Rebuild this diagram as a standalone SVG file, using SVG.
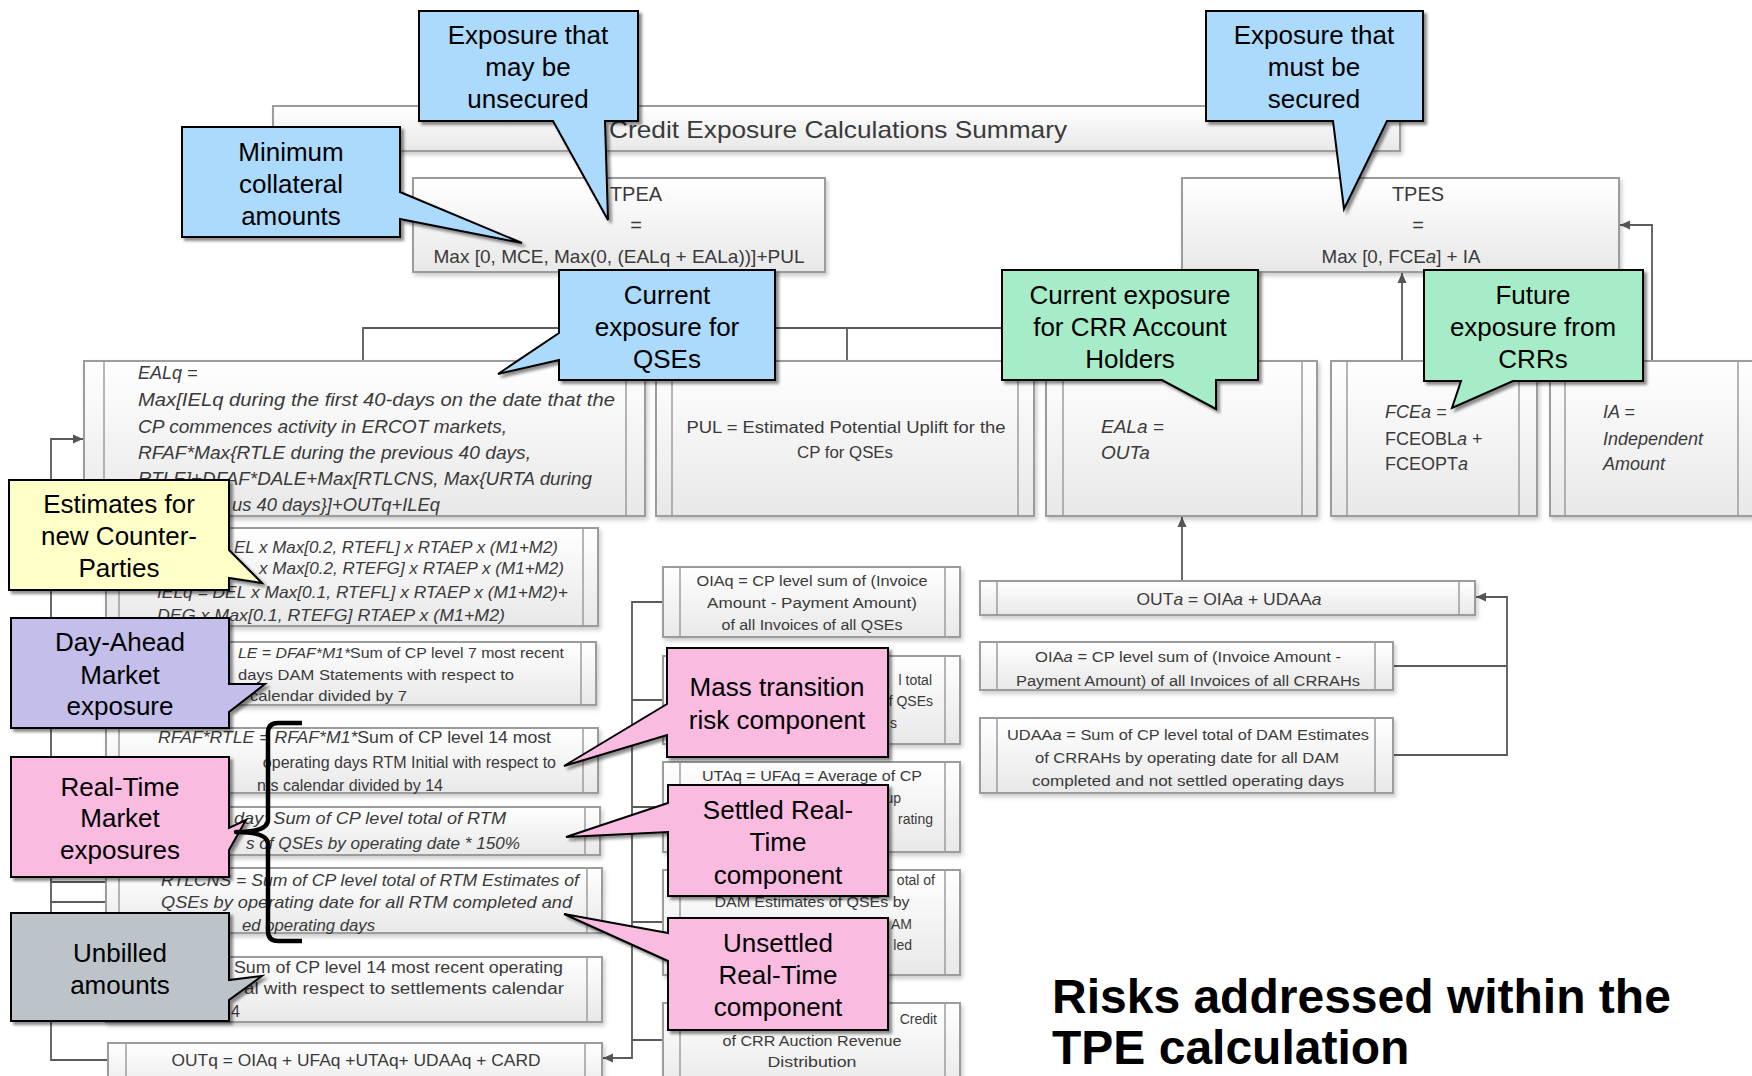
<svg xmlns="http://www.w3.org/2000/svg" width="1752" height="1076" viewBox="0 0 1752 1076">
<defs>
<linearGradient id="bg" x1="0" y1="0" x2="0" y2="1"><stop offset="0" stop-color="#ffffff"/><stop offset="1" stop-color="#e8e8e8"/></linearGradient>
<filter id="bs" x="-5%" y="-10%" width="115%" height="130%"><feDropShadow dx="2" dy="3" stdDeviation="2" flood-color="#000" flood-opacity="0.2"/></filter>
<filter id="cs" x="-10%" y="-10%" width="125%" height="125%"><feDropShadow dx="3" dy="3" stdDeviation="1.6" flood-color="#000" flood-opacity="0.45"/></filter>
<marker id="ah" viewBox="0 0 10 10" refX="10" refY="5" markerWidth="12" markerHeight="10" markerUnits="userSpaceOnUse" orient="auto"><path d="M0,0.5 L10,5 L0,9.5 z" fill="#555"/></marker>
</defs>
<style>
.box{fill:url(#bg);stroke:#9c9c9c;stroke-width:2;filter:url(#bs)}
.in{stroke:#9c9c9c;stroke-width:1.5}
.t{font-family:"Liberation Sans",Arial,sans-serif;fill:#3a3a3a}
.i{font-style:italic}
.c{text-anchor:middle}
.e{text-anchor:end}
.con{fill:none;stroke:#5a5a5a;stroke-width:1.8}
.co{stroke:#000;stroke-width:2;filter:url(#cs)}
.ct{font-family:"Liberation Sans",Arial,sans-serif;font-size:26px;fill:#000;text-anchor:middle}
.blue{fill:#abdafc}.green{fill:#a6ecc8}.yellow{fill:#ffffc8}.lav{fill:#c3beea}.pink{fill:#f9bbe0}.gray{fill:#bcc3c9}
</style>

<g id="connectors">
<path class="con" d="M363,361 V328 H1180 V361"/>
<path class="con" d="M620,272 V328"/>
<path class="con" d="M847,328 V361"/>
<path class="con" d="M1402,361 V273" marker-end="url(#ah)"/>
<path class="con" d="M1652,361 V225 H1620" marker-end="url(#ah)"/>
<path class="con" d="M1182,581 V517" marker-end="url(#ah)"/>
<path class="con" d="M1393,666 H1507"/>
<path class="con" d="M1393,755 H1507 V597 H1476" marker-end="url(#ah)"/>
<path class="con" d="M663,602 H632 V1058 H603" marker-end="url(#ah)"/>
<path class="con" d="M663,700 H632 M663,807 H632 M663,922 H632 M663,1040 H632"/>
<path class="con" d="M108,1060 H51 V439 H83" marker-end="url(#ah)"/>
<path class="con" d="M51,882 H106 M51,902 H106"/>
</g>

<g id="title"><rect class="box" x="273" y="106" width="1127" height="45"/>
<text class="t c" x="838" y="138" font-size="24" fill="#333" textLength="458" lengthAdjust="spacingAndGlyphs">Credit Exposure Calculations Summary</text></g>

<g id="tpea"><rect class="box" x="413" y="178" width="412" height="94"/>
<text class="t c" x="636" y="201" font-size="20">TPEA</text>
<text class="t c" x="636" y="232" font-size="20">=</text>
<text class="t c" x="619" y="263" font-size="19" textLength="371" lengthAdjust="spacingAndGlyphs">Max [0, MCE, Max(0, (EALq + EALa))]+PUL</text></g>

<g id="tpes"><rect class="box" x="1182" y="178" width="437" height="94"/>
<text class="t c" x="1418" y="201" font-size="20">TPES</text>
<text class="t c" x="1418" y="232" font-size="20">=</text>
<text class="t c" x="1401" y="263" font-size="19" textLength="159" lengthAdjust="spacingAndGlyphs">Max [0, FCE<tspan class="i">a</tspan>] + IA</text></g>

<g id="ealq"><rect class="box" x="84" y="361" width="561" height="155"/>
<line class="in" x1="104" y1="361" x2="104" y2="516"/><line class="in" x1="626" y1="361" x2="626" y2="516"/>
<g class="t i" font-size="18">
<text x="138" y="379">EALq =</text>
<text x="138" y="406" textLength="477" lengthAdjust="spacingAndGlyphs">Max[IELq during the first 40-days on the date that the</text>
<text x="138" y="433" textLength="369" lengthAdjust="spacingAndGlyphs">CP commences activity in ERCOT markets,</text>
<text x="138" y="459" textLength="393" lengthAdjust="spacingAndGlyphs">RFAF*Max{RTLE during the previous 40 days,</text>
<text x="138" y="485" textLength="454" lengthAdjust="spacingAndGlyphs">RTLE]+DFAF*DALE+Max[RTLCNS, Max{URTA during</text>
<text x="232" y="511" textLength="208" lengthAdjust="spacingAndGlyphs">us 40 days}]+OUTq+ILEq</text>
</g></g>

<g id="pul"><rect class="box" x="656" y="361" width="378" height="155"/>
<line class="in" x1="672" y1="361" x2="672" y2="516"/><line class="in" x1="1018" y1="361" x2="1018" y2="516"/>
<text class="t c" x="846" y="433" font-size="16" textLength="319" lengthAdjust="spacingAndGlyphs">PUL = Estimated Potential Uplift for the</text>
<text class="t c" x="845" y="458" font-size="16" textLength="96" lengthAdjust="spacingAndGlyphs">CP for QSEs</text></g>

<g id="eala"><rect class="box" x="1046" y="361" width="271" height="155"/>
<line class="in" x1="1063" y1="361" x2="1063" y2="516"/><line class="in" x1="1302" y1="361" x2="1302" y2="516"/>
<text class="t i" x="1101" y="433" font-size="19">EALa =</text>
<text class="t i" x="1101" y="459" font-size="19">OUTa</text></g>

<g id="fcea"><rect class="box" x="1331" y="361" width="206" height="155"/>
<line class="in" x1="1347" y1="361" x2="1347" y2="516"/><line class="in" x1="1519" y1="361" x2="1519" y2="516"/>
<text class="t i" x="1385" y="418" font-size="18">FCEa =</text>
<text class="t" x="1385" y="445" font-size="18">FCEOBL<tspan class="i">a</tspan> +</text>
<text class="t" x="1385" y="470" font-size="18">FCEOPT<tspan class="i">a</tspan></text></g>

<g id="ia"><rect class="box" x="1550" y="361" width="230" height="155"/>
<line class="in" x1="1565" y1="361" x2="1565" y2="516"/><line class="in" x1="1738" y1="361" x2="1738" y2="516"/>
<text class="t i" x="1603" y="418" font-size="18">IA =</text>
<text class="t i" x="1603" y="445" font-size="18">Independent</text>
<text class="t i" x="1603" y="470" font-size="18">Amount</text></g>

<g id="ielq"><rect class="box" x="106" y="528" width="492" height="98"/>
<line class="in" x1="119" y1="528" x2="119" y2="626"/><line class="in" x1="583" y1="528" x2="583" y2="626"/>
<g class="t i" font-size="17">
<text x="234" y="553" textLength="324" lengthAdjust="spacingAndGlyphs">EL x Max[0.2, RTEFL] x RTAEP x (M1+M2)</text>
<text x="259" y="574" textLength="305" lengthAdjust="spacingAndGlyphs">x Max[0.2, RTEFG] x RTAEP x (M1+M2)</text>
<text x="157" y="598" textLength="411" lengthAdjust="spacingAndGlyphs">IELq = DEL x Max[0.1, RTEFL] x RTAEP x (M1+M2)+</text>
<text x="157" y="621" textLength="348" lengthAdjust="spacingAndGlyphs">DEG x Max[0.1, RTEFG]  RTAEP x (M1+M2)</text>
</g></g>

<g id="dale"><rect class="box" x="106" y="642" width="490" height="63"/>
<line class="in" x1="119" y1="642" x2="119" y2="705"/><line class="in" x1="581" y1="642" x2="581" y2="705"/>
<g class="t" font-size="15">
<text x="238" y="658" textLength="326" lengthAdjust="spacingAndGlyphs"><tspan class="i">LE = DFAF*M1*</tspan>Sum of CP level 7 most recent</text>
<text x="238" y="680" textLength="276" lengthAdjust="spacingAndGlyphs">days DAM Statements with respect to</text>
<text x="250" y="701" textLength="157" lengthAdjust="spacingAndGlyphs">calendar divided by 7</text>
</g></g>

<g id="rtle"><rect class="box" x="106" y="728" width="492" height="65"/>
<line class="in" x1="119" y1="728" x2="119" y2="793"/><line class="in" x1="583" y1="728" x2="583" y2="793"/>
<g class="t" font-size="16">
<text x="158" y="743" textLength="393" lengthAdjust="spacingAndGlyphs"><tspan class="i">RFAF*RTLE = RFAF*M1*</tspan>Sum of CP level 14 most</text>
<text class="e" x="556" y="768">operating days RTM Initial with respect to</text>
<text class="e" x="443" y="791">nts calendar divided by 14</text>
</g></g>

<g id="urta"><rect class="box" x="106" y="807" width="494" height="48"/>
<line class="in" x1="119" y1="807" x2="119" y2="855"/><line class="in" x1="585" y1="807" x2="585" y2="855"/>
<g class="t i" font-size="17">
<text x="234" y="824" textLength="272" lengthAdjust="spacingAndGlyphs">day; Sum of CP level total of RTM</text>
<text x="246" y="849" textLength="274" lengthAdjust="spacingAndGlyphs">s of QSEs by operating date * 150%</text>
</g></g>

<g id="rtlcns"><rect class="box" x="106" y="868" width="496" height="65"/>
<line class="in" x1="119" y1="868" x2="119" y2="933"/><line class="in" x1="587" y1="868" x2="587" y2="933"/>
<g class="t i" font-size="17">
<text x="161" y="886" textLength="418" lengthAdjust="spacingAndGlyphs">RTLCNS = Sum of CP level total of RTM Estimates of</text>
<text x="161" y="908" textLength="411" lengthAdjust="spacingAndGlyphs">QSEs by operating date  for all RTM completed and</text>
<text x="242" y="931" textLength="133" lengthAdjust="spacingAndGlyphs">ed operating days</text>
</g></g>

<g id="rtlf"><rect class="box" x="106" y="957" width="496" height="65"/>
<line class="in" x1="119" y1="957" x2="119" y2="1022"/><line class="in" x1="587" y1="957" x2="587" y2="1022"/>
<g class="t" font-size="16">
<text x="234" y="973" textLength="329" lengthAdjust="spacingAndGlyphs">Sum of CP level 14 most recent operating</text>
<text x="244" y="994" textLength="320" lengthAdjust="spacingAndGlyphs">al with respect to settlements calendar</text>
<text x="231" y="1017">4</text>
</g></g>

<g id="outq"><rect class="box" x="108" y="1043" width="494" height="50"/>
<line class="in" x1="126" y1="1043" x2="126" y2="1093"/><line class="in" x1="585" y1="1043" x2="585" y2="1093"/>
<text class="t c" x="356" y="1066" font-size="17" textLength="369" lengthAdjust="spacingAndGlyphs">OUTq = OIAq + UFAq +UTAq+ UDAAq + CARD</text></g>

<g id="oiaq"><rect class="box" x="663" y="567" width="297" height="70"/>
<line class="in" x1="680" y1="567" x2="680" y2="637"/><line class="in" x1="945" y1="567" x2="945" y2="637"/>
<g class="t c" font-size="14">
<text x="812" y="586" textLength="231" lengthAdjust="spacingAndGlyphs">OIAq = CP level sum of (Invoice</text>
<text x="812" y="608" textLength="210" lengthAdjust="spacingAndGlyphs">Amount - Payment Amount)</text>
<text x="812" y="630" textLength="181" lengthAdjust="spacingAndGlyphs">of all Invoices of all QSEs</text>
</g></g>

<g id="box-q2"><rect class="box" x="663" y="656" width="297" height="88"/>
<line class="in" x1="680" y1="656" x2="680" y2="744"/><line class="in" x1="945" y1="656" x2="945" y2="744"/>
<g class="t e" font-size="14">
<text x="932" y="685">l total</text>
<text x="933" y="706">f QSEs</text>
<text x="897" y="728">s</text>
</g></g>

<g id="utaq"><rect class="box" x="663" y="762" width="297" height="90"/>
<line class="in" x1="680" y1="762" x2="680" y2="852"/><line class="in" x1="945" y1="762" x2="945" y2="852"/>
<g class="t" font-size="14">
<text class="c" x="812" y="781" textLength="220" lengthAdjust="spacingAndGlyphs">UTAq = UFAq = Average of CP</text>
<text class="e" x="901" y="803">up</text>
<text class="e" x="933" y="824">rating</text>
</g></g>

<g id="udaaq"><rect class="box" x="663" y="870" width="297" height="105"/>
<line class="in" x1="680" y1="870" x2="680" y2="975"/><line class="in" x1="945" y1="870" x2="945" y2="975"/>
<g class="t" font-size="14">
<text class="e" x="935" y="885">otal of</text>
<text class="c" x="812" y="907" textLength="195" lengthAdjust="spacingAndGlyphs">DAM Estimates of QSEs by</text>
<text class="e" x="912" y="929">AM</text>
<text class="e" x="912" y="950">led</text>
</g></g>

<g id="card"><rect class="box" x="663" y="1003" width="297" height="90"/>
<line class="in" x1="680" y1="1003" x2="680" y2="1093"/><line class="in" x1="945" y1="1003" x2="945" y2="1093"/>
<g class="t" font-size="14">
<text class="e" x="937" y="1024">Credit</text>
<text class="c" x="812" y="1046" textLength="179" lengthAdjust="spacingAndGlyphs">of CRR Auction Revenue</text>
<text class="c" x="812" y="1067" textLength="89" lengthAdjust="spacingAndGlyphs">Distribution</text>
</g></g>

<g id="outa"><rect class="box" x="980" y="581" width="495" height="34"/>
<line class="in" x1="997" y1="581" x2="997" y2="615"/><line class="in" x1="1459" y1="581" x2="1459" y2="615"/>
<text class="t c" x="1229" y="605" font-size="17" textLength="185" lengthAdjust="spacingAndGlyphs">OUT<tspan class="i">a</tspan> = OIA<tspan class="i">a</tspan> + UDAA<tspan class="i">a</tspan></text></g>

<g id="oiaa"><rect class="box" x="980" y="642" width="413" height="48"/>
<line class="in" x1="997" y1="642" x2="997" y2="690"/><line class="in" x1="1375" y1="642" x2="1375" y2="690"/>
<g class="t c" font-size="14">
<text x="1188" y="662" textLength="306" lengthAdjust="spacingAndGlyphs">OIA<tspan class="i">a</tspan> = CP level sum of (Invoice Amount -</text>
<text x="1188" y="686" textLength="344" lengthAdjust="spacingAndGlyphs">Payment Amount) of all Invoices of all CRRAHs</text>
</g></g>

<g id="udaaa"><rect class="box" x="980" y="718" width="413" height="75"/>
<line class="in" x1="997" y1="718" x2="997" y2="793"/><line class="in" x1="1375" y1="718" x2="1375" y2="793"/>
<g class="t c" font-size="14">
<text x="1188" y="740" textLength="362" lengthAdjust="spacingAndGlyphs">UDAA<tspan class="i">a</tspan> = Sum of CP level total of DAM Estimates</text>
<text x="1187" y="763" textLength="304" lengthAdjust="spacingAndGlyphs">of CRRAHs by operating date for all DAM</text>
<text x="1188" y="786" textLength="312" lengthAdjust="spacingAndGlyphs">completed and not settled operating days</text>
</g></g>

<g id="callout-unsecured"><path class="co blue" d="M419,11 H638 V121 H605 L608,220 L553,121 H419 Z"/>
<text class="ct" x="528" y="44">Exposure that</text><text class="ct" x="528" y="76">may be</text><text class="ct" x="528" y="108">unsecured</text></g>

<g id="callout-secured"><path class="co blue" d="M1206,11 H1423 V121 H1387 L1344,209 L1333,121 H1206 Z"/>
<text class="ct" x="1314" y="44">Exposure that</text><text class="ct" x="1314" y="76">must be</text><text class="ct" x="1314" y="108">secured</text></g>

<g id="callout-minimum"><path class="co blue" d="M182,127 H400 V192 L522,243 L400,219 V237 H182 Z"/>
<text class="ct" x="291" y="161">Minimum</text><text class="ct" x="291" y="193">collateral</text><text class="ct" x="291" y="225">amounts</text></g>

<g id="callout-qse"><path class="co blue" d="M559,270 H775 V380 H559 V360 L498,374 L559,333 Z"/>
<text class="ct" x="667" y="304">Current</text><text class="ct" x="667" y="336">exposure for</text><text class="ct" x="667" y="368">QSEs</text></g>

<g id="callout-crr"><path class="co green" d="M1002,270 H1258 V380 H1216 V409 L1162,380 H1002 Z"/>
<text class="ct" x="1130" y="304">Current exposure</text><text class="ct" x="1130" y="336">for CRR Account</text><text class="ct" x="1130" y="368">Holders</text></g>

<g id="callout-future"><path class="co green" d="M1424,270 H1643 V381 H1513 L1452,408 L1461,381 H1424 Z"/>
<text class="ct" x="1533" y="304">Future</text><text class="ct" x="1533" y="336">exposure from</text><text class="ct" x="1533" y="368">CRRs</text></g>

<g id="callout-estimates"><path class="co yellow" d="M9,480 H229 V550 L262,583 L229,578 V590 H9 Z"/>
<text class="ct" x="119" y="513">Estimates for</text><text class="ct" x="119" y="545">new Counter-</text><text class="ct" x="119" y="577">Parties</text></g>

<g id="callout-dam"><path class="co lav" d="M11,618 H229 V684 L265,684 L229,712 V728 H11 Z"/>
<text class="ct" x="120" y="651">Day-Ahead</text><text class="ct" x="120" y="684">Market</text><text class="ct" x="120" y="715">exposure</text></g>

<g id="callout-rtm"><path class="co pink" d="M11,757 H229 V828 L246,820 L229,850 V877 H11 Z"/>
<text class="ct" x="120" y="796">Real-Time</text><text class="ct" x="120" y="827">Market</text><text class="ct" x="120" y="859">exposures</text></g>

<g id="callout-unbilled"><path class="co gray" d="M11,913 H229 V980 L262,976 L229,1000 V1021 H11 Z"/>
<text class="ct" x="120" y="962">Unbilled</text><text class="ct" x="120" y="994">amounts</text></g>

<g id="callout-mass"><path class="co pink" d="M667,648 H888 V757 H667 V735 L564,766 L667,704 Z"/>
<text class="ct" x="777" y="696">Mass transition</text><text class="ct" x="777" y="729">risk component</text></g>

<g id="callout-settled"><path class="co pink" d="M668,785 H888 V896 H668 V832 L566,837 L668,803 Z"/>
<text class="ct" x="778" y="819">Settled Real-</text><text class="ct" x="778" y="851">Time</text><text class="ct" x="778" y="884">component</text></g>

<g id="callout-unsettled"><path class="co pink" d="M668,918 H888 V1030 H668 V961 L564,914 L668,933 Z"/>
<text class="ct" x="778" y="952">Unsettled</text><text class="ct" x="778" y="984">Real-Time</text><text class="ct" x="778" y="1016">component</text></g>

<g id="brace"><path d="M302,723 L278,723 Q268,723 268,733 L268,820 Q268,832 236,832 Q268,832 268,844 L268,931 Q268,941 278,941 L302,941" fill="none" stroke="#000" stroke-width="4.5" stroke-linejoin="round"/></g>

<g id="heading">
<text x="1052" y="1013" font-family="'Liberation Sans',Arial,sans-serif" font-weight="bold" font-size="48" fill="#000">Risks addressed within the</text>
<text x="1052" y="1064" font-family="'Liberation Sans',Arial,sans-serif" font-weight="bold" font-size="48" fill="#000">TPE calculation</text>
</g>
</svg>
